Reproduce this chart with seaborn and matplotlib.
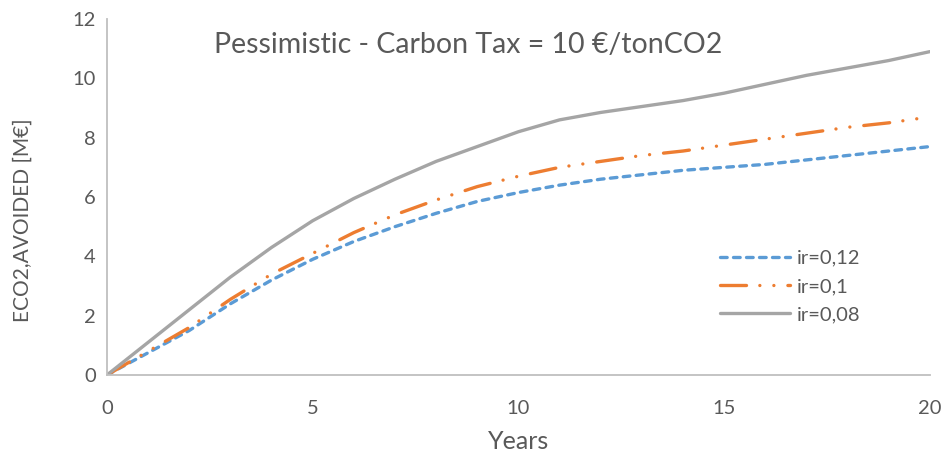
import matplotlib
matplotlib.use("Agg")
import matplotlib.pyplot as plt
import seaborn as sns
import pandas as pd

sns.set_style("white")
plt.rcParams['font.family'] = ['Lato', 'DejaVu Sans']

# values
years = list(range(0, 21))
ir_012 = [0, 0.75, 1.5, 2.4, 3.2, 3.9, 4.5, 5.0, 5.45, 5.85, 6.15,
          6.4, 6.6, 6.75, 6.9, 7.0, 7.1, 7.25, 7.4, 7.55, 7.7]
ir_010 = [0, 0.8, 1.6, 2.55, 3.4, 4.1, 4.8, 5.4, 5.9, 6.35, 6.7,
          7.0, 7.2, 7.4, 7.55, 7.75, 7.95, 8.15, 8.35, 8.5, 8.7]
ir_008 = [0, 1.1, 2.2, 3.3, 4.3, 5.2, 5.95, 6.6, 7.2, 7.7, 8.2,
          8.6, 8.85, 9.05, 9.25, 9.5, 9.8, 10.1, 10.35, 10.6, 10.9]
labels = ["ir=0,12", "ir=0,1", "ir=0,08"]

df = pd.DataFrame({"Years": years, labels[0]: ir_012, labels[1]: ir_010, labels[2]: ir_008})
df = df.melt(id_vars="Years", var_name="series", value_name="value")

colors = {"ir=0,12": "#5B9BD5", "ir=0,1": "#ED7D31", "ir=0,08": "#A5A5A5"}
text_color = "#595959"

fig, ax = plt.subplots(figsize=(9.44, 4.59), dpi=100)
fig.subplots_adjust(left=0.1133, right=0.985, bottom=0.183, top=0.9586)

sns.lineplot(data=df, x="Years", y="value", hue="series", palette=colors,
             linewidth=2.4, ax=ax, legend=False)

lines = ax.get_lines()
lines[0].set_dashes([2.0, 1.9])
lines[0].set_dash_capstyle("round")
lines[1].set_dashes([7.8, 4.0, 0.01, 4.2, 0.01, 4.2])
lines[1].set_dash_capstyle("round")
lines[2].set_solid_capstyle("round")

ax.set_xlim(0, 20)
ax.set_ylim(0, 12)
ax.set_xticks([0, 5, 10, 15, 20])
ax.set_yticks(range(0, 13, 2))
ax.tick_params(axis="both", labelsize=14.5, colors=text_color, length=0)
ax.tick_params(axis="x", pad=18)
ax.tick_params(axis="y", pad=8)
for s in ["top", "right"]:
    ax.spines[s].set_visible(False)
for s in ["left", "bottom"]:
    ax.spines[s].set_color("#BFBFBF")
    ax.spines[s].set_linewidth(1.3)

ax.set_xlabel("Years", fontsize=18, color=text_color)
ax.xaxis.set_label_coords(0.5, -0.188)
ax.xaxis.label.set_va("center")
ax.set_ylabel("ECO2,AVOIDED [M€]", fontsize=15, color=text_color)
ax.yaxis.set_label_coords(-0.103, 0.435)
ax.yaxis.label.set_va("center")

fig.text(0.496, 0.902, "Pessimistic - Carbon Tax = 10 €/tonCO2", fontsize=20.5,
         color=text_color, ha="center", va="center")

leg = ax.legend(lines, labels, loc="upper left", bbox_to_anchor=(0.745, 0.352),
                frameon=False, fontsize=14.5, handlelength=3.5, labelspacing=0.55,
                handletextpad=0.3, borderaxespad=0, borderpad=0)
for t in leg.get_texts():
    t.set_color(text_color)

fig.savefig("out.png", dpi=100)
